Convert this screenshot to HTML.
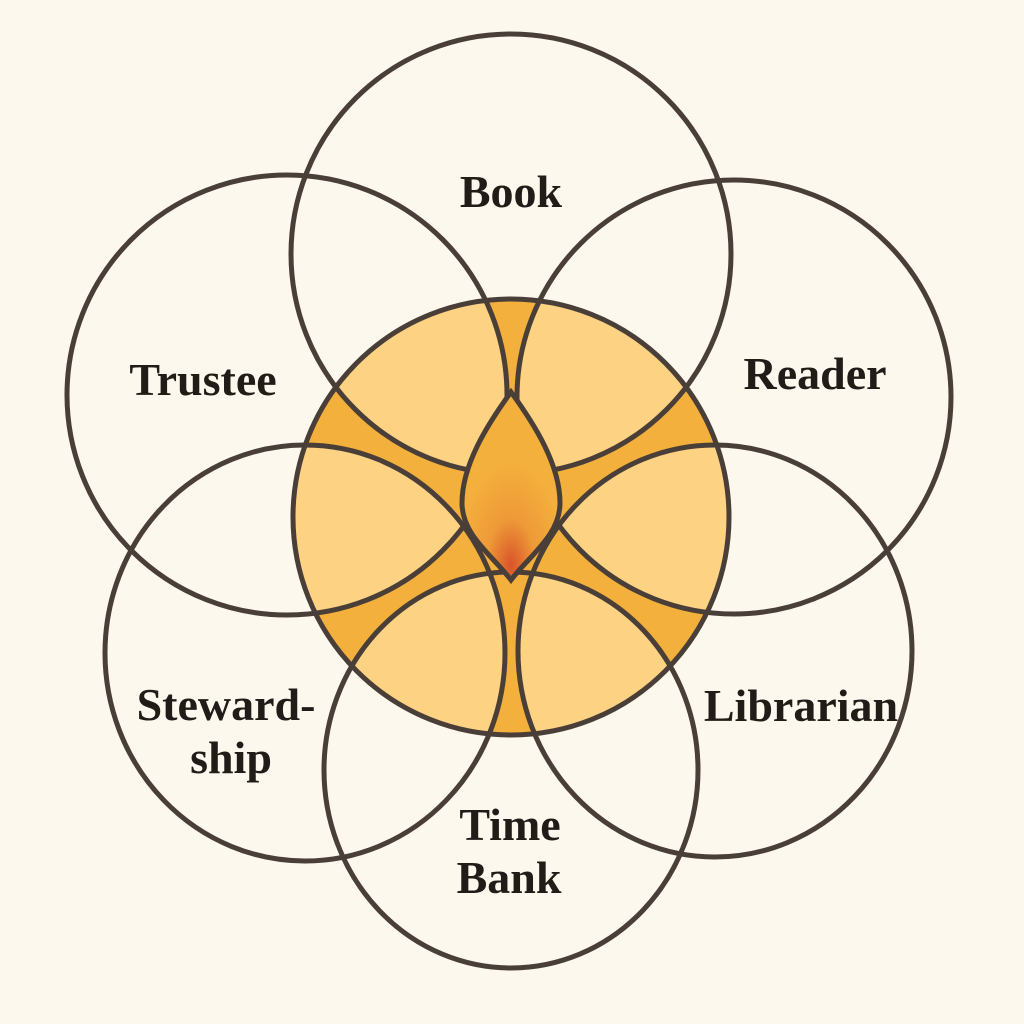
<!DOCTYPE html>
<html><head><style>
html,body{margin:0;padding:0;background:#fdf8ee;}
svg{display:block}
text{font-family:"Liberation Serif",serif;font-weight:bold;font-size:46px;fill:#221c18;text-anchor:middle}
</style></head><body>
<svg width="1024" height="1024" viewBox="0 0 1024 1024">
<defs>
<clipPath id="cc"><circle cx="511" cy="517" r="218"/></clipPath>
<clipPath id="cB"><circle cx="511" cy="254" r="220"/></clipPath>
<clipPath id="cT"><circle cx="287" cy="395" r="220"/></clipPath>
<clipPath id="cR"><circle cx="734" cy="397" r="217"/></clipPath>
<clipPath id="cM"><ellipse cx="511" cy="770" rx="187" ry="198"/></clipPath>
<radialGradient id="lg" cx="0.5" cy="0.92" r="0.55">
<stop offset="0" stop-color="#d9542a"/><stop offset="0.45" stop-color="#ee9a38"/><stop offset="1" stop-color="#f4b03c"/>
</radialGradient>
</defs>
<rect width="1024" height="1024" fill="#fdf8ee"/>
<circle cx="511" cy="517" r="218" fill="#f3b03c"/>
<g clip-path="url(#cc)" fill="#fdd283">
<g clip-path="url(#cB)"><circle cx="287" cy="395" r="220"/><circle cx="734" cy="397" r="217"/></g>
<g clip-path="url(#cT)"><ellipse cx="305" cy="653" rx="200" ry="208"/></g>
<g clip-path="url(#cR)"><ellipse cx="715" cy="651" rx="197" ry="206"/></g>
<g clip-path="url(#cM)"><ellipse cx="305" cy="653" rx="200" ry="208"/><ellipse cx="715" cy="651" rx="197" ry="206"/></g>
</g>
<g fill="none" stroke="#4a3f38" stroke-width="5">
<circle cx="511" cy="517" r="218"/>
<circle cx="511" cy="254" r="220"/>
<circle cx="287" cy="395" r="220"/>
<circle cx="734" cy="397" r="217"/>
<ellipse cx="305" cy="653" rx="200" ry="208"/>
<ellipse cx="715" cy="651" rx="197" ry="206"/>
<ellipse cx="511" cy="770" rx="187" ry="198"/>
</g>
<path d="M511 392 C535 425 560 465 560 503 C560 535 530 555 511 580 C492 555 462 535 462 503 C462 465 487 425 511 392 Z" fill="url(#lg)" stroke="#4a3f38" stroke-width="5"/>
<text x="511" y="207">Book</text>
<text x="203" y="395">Trustee</text>
<text x="815" y="389">Reader</text>
<text x="226" y="720">Steward-</text>
<text x="231" y="773">ship</text>
<text x="801" y="721">Librarian</text>
<text x="510" y="840">Time</text>
<text x="509" y="893">Bank</text>
</svg>
</body></html>
